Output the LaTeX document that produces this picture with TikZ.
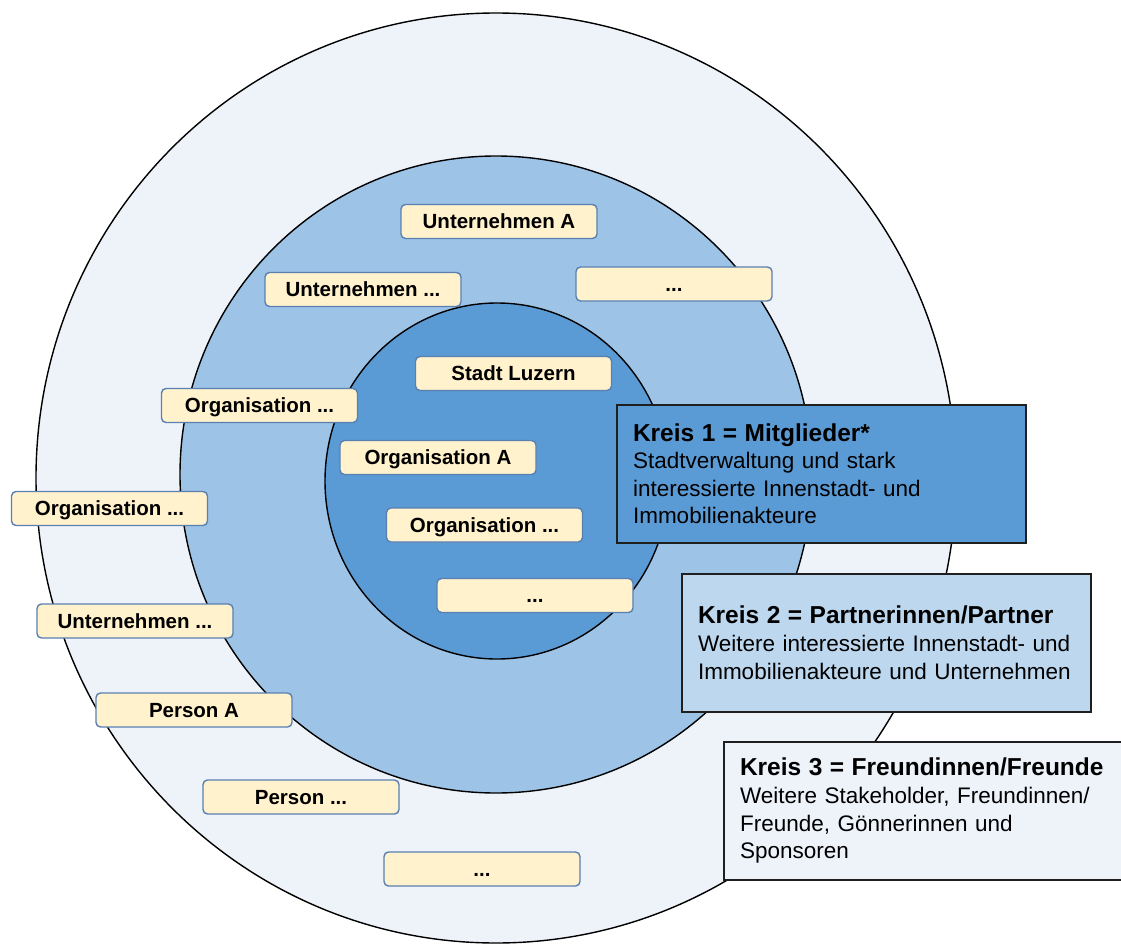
\documentclass[tikz,border=0pt]{standalone}
\usepackage{fontspec}
\setmainfont{Liberation Sans}
\usetikzlibrary{positioning}
\definecolor{ringthree}{HTML}{EEF3FA}
\definecolor{ringtwo}{HTML}{9DC3E6}
\definecolor{ringone}{HTML}{5B9BD5}
\definecolor{kreistwo}{HTML}{BDD7EE}
\definecolor{memberfill}{HTML}{FFF2CC}
\definecolor{memberline}{HTML}{5A80B2}

\begin{document}
\begin{tikzpicture}[x=1pt,y=-1pt]
  \tikzstyle{every node}+=[inner sep=0pt]
  \tikzstyle{member}=[draw=memberline, fill=memberfill, line width=1.4pt, rounded corners=4.5pt,
    minimum width=196pt, minimum height=34pt, text height=14.8pt, text depth=0pt,
    font=\fontsize{20.5}{24}\selectfont\bfseries]
  \tikzstyle{kreis}=[draw=black!88, line width=2pt, anchor=north west, minimum width=409pt,
    minimum height=137.5pt, inner xsep=16pt, text width=377pt, align=left,
    font=\fontsize{22.5}{27.6}\selectfont]
  \path[fill=white] (0,0) rectangle (1121,944);
  \useasboundingbox (0,0) rectangle (1121,944);
  % die drei Kreise
  \draw[fill=ringthree, line width=1.4pt] (496,478) ellipse [x radius=460pt, y radius=465pt];
  \draw[fill=ringtwo, line width=1.4pt] (496,474.5) ellipse [x radius=316pt, y radius=318.5pt];
  \draw[fill=ringone, line width=1.4pt] (497,481) ellipse [x radius=172pt, y radius=178pt];
  % Kreis 2
  \node[member] (ua) at (499,221.5) {Unternehmen A};
  \node[member] (udots) at (363,289.5) {Unternehmen ...};
  \node[member] (mdots) at (674,284) {...};
  \node[member] (orgm) at (259.5,405.5) {Organisation ...};
  % Kreis 1
  \node[member] (stadt) at (513.5,373.5) {Stadt Luzern};
  \node[member] (orga) at (438,457.5) {Organisation A};
  \node[member] (orgi) at (484.5,525) {Organisation ...};
  \node[member] (idots) at (535,595.5) {...};
  % Kreis 3
  \node[member] (orgo) at (109.5,508.5) {Organisation ...};
  \node[member] (uo) at (135,621) {Unternehmen ...};
  \node[member] (pa) at (194,710) {Person A};
  \node[member] (pdots) at (301,797) {Person ...};
  \node[member] (odots) at (482,869) {...};
  % Legende
  \node[kreis, fill=ringone] (k1) at (616,404)
    {{\fontsize{24.5}{27.6}\selectfont\bfseries Kreis 1 = Mitglieder*}\\
     Stadtverwaltung und stark\\
     interessierte Innenstadt- und\\
     Immobilienakteure};
  \node[kreis, fill=kreistwo] (k2) at (681,573)
    {{\fontsize{24.5}{27.6}\selectfont\bfseries Kreis 2 = Partnerinnen/Partner}\\
     Weitere interessierte Innenstadt- und\\
     Immobilienakteure und Unternehmen};
  \node[kreis, fill=ringthree] (k3) at (723,741)
    {{\fontsize{24.5}{27.6}\selectfont\bfseries Kreis 3 = Freundinnen/Freunde}\\
     Weitere Stakeholder, Freundinnen/\\
     Freunde, Gönnerinnen und\\
     Sponsoren};
\end{tikzpicture}
\end{document}
